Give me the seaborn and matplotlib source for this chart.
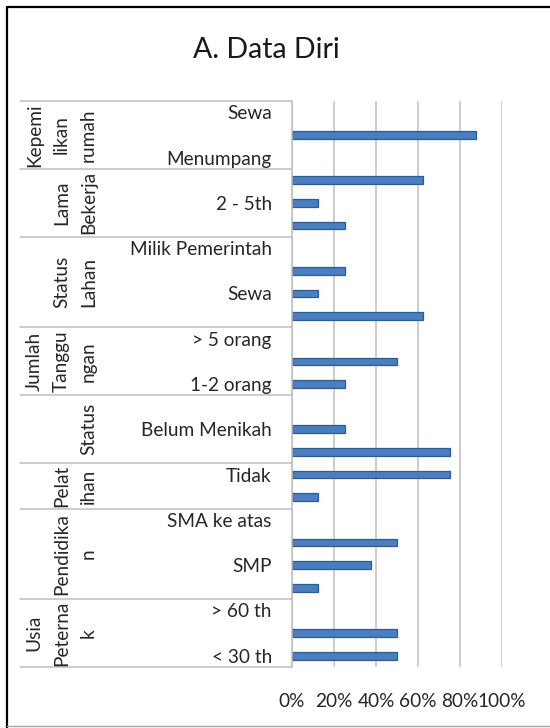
import matplotlib
matplotlib.use("Agg")
import matplotlib.pyplot as plt
import seaborn as sns
import pandas as pd
from matplotlib.lines import Line2D
from matplotlib.transforms import blended_transform_factory

# Survey profile: one group of answer categories per question (top to bottom)
group_labels = ["Kepemi\nlikan\nrumah", "Lama\nBekerja", "Status\nLahan",
                "Jumlah\nTanggu\nngan", "Status", "Pelat\nihan",
                "Pendidika\nn", "Usia\nPeterna\nk"]
group_sizes = [3, 3, 4, 3, 3, 2, 4, 3]

categories = ["Sewa", "Milik Sendiri", "Menumpang",
              "> 5th", "2 - 5th", "< 2th",
              "Milik Pemerintah", "Pinjam", "Sewa", "Milik Sendiri",
              "> 5 orang", "3-4 orang", "1-2 orang",
              "Janda/Duda", "Belum Menikah", "Menikah",
              "Tidak", "Ya",
              "SMA ke atas", "SMA", "SMP", "SD",
              "> 60 th", "30-60 th", "< 30 th"]
percent = [0, 87.5, 0,
           62.5, 12.5, 25,
           0, 25, 12.5, 62.5,
           0, 50, 25,
           0, 25, 75,
           75, 12.5,
           0, 50, 37.5, 12.5,
           0, 50, 50]
x_ticks = [0, 20, 40, 60, 80, 100]

group_of_row = [g for g, n in zip(group_labels, group_sizes) for _ in range(n)]
keys = [f"{i}|{c}" for i, c in enumerate(categories)]
df = pd.DataFrame({"key": keys, "category": categories,
                   "group": group_of_row, "percent": percent})

sns.set_theme(style="white")
plt.rcParams["font.family"] = ["Lato", "DejaVu Sans"]

W, H = 550, 728
fig = plt.figure(figsize=(W / 100, H / 100), dpi=100)
ax_left, ax_right, ax_top, ax_bottom = 292, 502, 101, 667
ax = fig.add_axes([ax_left / W, 1 - ax_bottom / H,
                   (ax_right - ax_left) / W, (ax_bottom - ax_top) / H])

bar_color = "#4A7EBF"
edge_color = "#2C5B95"
sns.barplot(data=df, x="percent", y="key", order=keys, orient="h",
            color=bar_color, saturation=1, width=0.34,
            edgecolor=edge_color, linewidth=0.9, ax=ax)
# empty categories leave no outline behind
for patch in ax.patches:
    if patch.get_width() == 0:
        patch.set_visible(False)

label_size = 13.7
text_color = "#262626"
grid_color = "#BFBFBF"
ax.set_xlim(0, 100)
ax.set_ylim(len(keys) - 0.5, -0.5)
ax.set_xticks(x_ticks)
ax.set_xticklabels([f"{t}%" for t in x_ticks], fontsize=label_size, color=text_color)
ax.set_yticks(range(len(keys)))
ax.set_yticklabels([c if i % 2 == 0 else "" for i, c in enumerate(categories)],
                   fontsize=label_size, color=text_color)
ax.tick_params(axis="x", length=0, pad=19)
ax.tick_params(axis="y", length=0, pad=14.5)
ax.set_xlabel("")
ax.set_ylabel("")
ax.xaxis.grid(True, color=grid_color, linewidth=1.1)
ax.yaxis.grid(False)
for side in ["top", "right", "bottom"]:
    ax.spines[side].set_visible(False)
ax.spines["left"].set_color(grid_color)
ax.spines["left"].set_linewidth(1.1)

# Multi-level category axis: separators and rotated group names
trans = blended_transform_factory(fig.transFigure, ax.transData)
bounds = [-0.5]
for n in group_sizes:
    bounds.append(bounds[-1] + n)
for b in bounds:
    fig.add_artist(Line2D([20 / W, ax_left / W], [b, b], transform=trans,
                          color=grid_color, linewidth=1.1))
for lab, lo, hi in zip(group_labels, bounds[:-1], bounds[1:]):
    fig.text(97 / W, (lo + hi) / 2, lab, transform=trans, rotation=90,
             ha="right", va="center", multialignment="center",
             fontsize=label_size, linespacing=1.72, color=text_color)

fig.text(266 / W, 1 - 50 / H, "A. Data Diri", ha="center", va="center",
         fontsize=20.5, color="#1a1a1a")

# Chart frame
fig.add_artist(Line2D([7 / W, 7 / W], [0, 1 - 7 / H], transform=fig.transFigure,
                      color="black", linewidth=1.6))
fig.add_artist(Line2D([7 / W, 1], [1 - 7 / H, 1 - 7 / H], transform=fig.transFigure,
                      color="black", linewidth=1.6))
fig.add_artist(Line2D([7 / W, 1], [1 - 726 / H, 1 - 726 / H], transform=fig.transFigure,
                      color="#A6A6A6", linewidth=1))

fig.savefig("out.png", dpi=100, facecolor="white")
